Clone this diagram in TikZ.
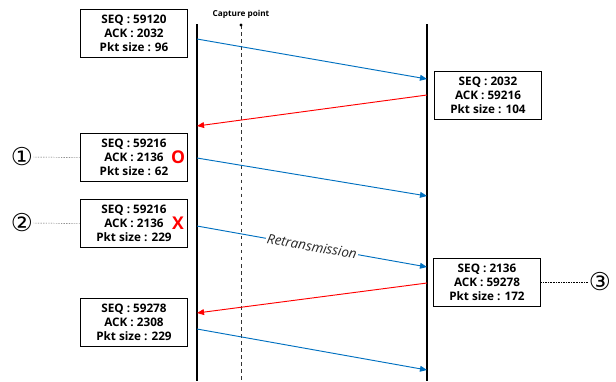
\documentclass[tikz,border=0pt]{standalone}
\usepackage{fontspec}
\setmainfont{Open Sans}
\newfontfamily\circfont{DejaVu Sans}
\usetikzlibrary{arrows.meta,positioning}
\definecolor{pktBlue}{RGB}{0,112,192}
\tikzset{
myHost/.style={line width=2.4pt,black}
, myCapture/.style={dashed,thin,black!80}
, myPkt/.style={
	rectangle,draw,thick,fill=white,
	minimum width=92pt,minimum height=41pt,
	inner sep=0pt,align=center,
	font=\fontsize{10}{11.8}\selectfont\bfseries
}
, myMark/.style={text=red,font=\fontsize{15}{15}\selectfont\bfseries}
, myNum/.style={font=\fontsize{21}{21}\selectfont\circfont,inner sep=0pt}
% links
, myData/.style={-{Triangle[length=6pt,width=5pt]},color=pktBlue,thick}
, myAck/.style={-{Triangle[length=6pt,width=5pt]},color=red,thick}
, myLead/.style={densely dotted,thin}
}

\begin{document}
\begin{tikzpicture}[x=0.03cm,y=-0.03cm]
	\useasboundingbox (0,0) rectangle (616,381);
	% hosts
	\coordinate (HostA) at (197,24);
	\coordinate (HostAEnd) at (197,381);
	\coordinate (HostB) at (427,24);
	\coordinate (HostBEnd) at (427,381);
	\draw[myHost] (HostA) -- (HostAEnd);
	\draw[myHost] (HostB) -- (HostBEnd);
	% capture point
	\coordinate (Cap) at (241,25);
	\coordinate (CapEnd) at (241,381);
	\draw[myCapture] (Cap) -- (CapEnd);
	\fill (Cap) circle (1.6);
	\node[font=\fontsize{7}{7}\selectfont\bfseries] (CapLabel) at (241,14) {Capture point};

	% packets
	\node[myPkt] (P1) at (134,33)  {SEQ : 59120\\ACK : 2032\\Pkt size : 96};
	\node[myPkt] (P2) at (488,95.5) {SEQ : 2032\\ACK : 59216\\Pkt size : 104};
	\node[myPkt] (P3) at (134,157.5) {SEQ : 59216\\ACK : 2136\\Pkt size : 62};
	\node[myPkt] (P4) at (134,223.5) {SEQ : 59216\\ACK : 2136\\Pkt size : 229};
	\node[myPkt] (P5) at (487,282) {SEQ : 2136\\ACK : 59278\\Pkt size : 172};
	\node[myPkt] (P6) at (134,322.5) {SEQ : 59278\\ACK : 2308\\Pkt size : 229};

	% marks
	\node[myMark] (OkMark) at (178,157) {O};
	\node[myMark] (LostMark) at (178,223) {X};
	\node[myNum] (N1) at (22,157) {①};
	\node[myNum] (N2) at (22,223) {②};
	\node[myNum] (N3) at (600,282) {③};
	\draw[myLead] (N1.east) -- (P3.west);
	\draw[myLead] (N2.east) -- (P4.west);
	\draw[myLead] (P5.east) -- (N3.west);

	% links
	\coordinate (A1) at (197,39);   \coordinate (B1) at (427,79);
	\coordinate (B2) at (427,95);   \coordinate (A2) at (197,126);
	\coordinate (A3) at (197,158);  \coordinate (B3) at (427,196);
	\coordinate (A4) at (197,226);  \coordinate (B4) at (427,267);
	\coordinate (B5) at (427,283);  \coordinate (A5) at (197,313);
	\coordinate (A6) at (197,329);  \coordinate (B6) at (427,370);
	\draw[myData] (A1) -- (B1);
	\draw[myAck] (B2) -- (A2);
	\draw[myData] (A3) -- (B3);
	\draw[myData] (A4) -- node[sloped,fill=white,inner sep=1pt,text=black!85,
		font=\fontsize{11.5}{11.5}\selectfont\itshape] (ReTx) {Retransmission} (B4);
	\draw[myAck] (B5) -- (A5);
	\draw[myData] (A6) -- (B6);
\end{tikzpicture}
\end{document}
